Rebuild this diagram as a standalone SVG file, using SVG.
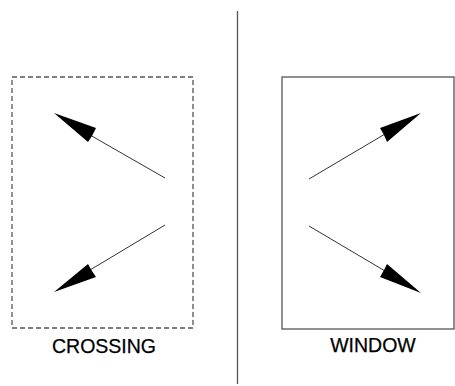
<svg xmlns="http://www.w3.org/2000/svg" width="455" height="386" viewBox="0 0 455 386">
<style>
.frame{fill:none;stroke:#555;stroke-width:1.3}
.dash{stroke-dasharray:5,3}
.shaft{stroke:#333;stroke-width:1}
.head{fill:#000}
.lbl{font-family:"Liberation Sans",Arial,sans-serif;font-size:19.5px;fill:#000;text-anchor:middle;stroke:#000;stroke-width:0.25}
</style>
<rect width="455" height="386" fill="#fff"/>
<line x1="237.5" y1="11" x2="237.5" y2="384" stroke="#555" stroke-width="1.3"/>
<g id="crossing">
<rect class="frame dash" x="12" y="77" width="181" height="251"/>
<text class="lbl" x="104" y="353">CROSSING</text>
</g>
<g id="window">
<rect class="frame" x="282" y="77" width="172" height="252"/>
<text class="lbl" x="373" y="352">WINDOW</text>
</g>
<g id="connectors">
<line class="shaft" x1="165" y1="178" x2="90" y2="135"/>
<polygon class="head" points="54,113 96,128 92,136 88,142"/>
<line class="shaft" x1="165" y1="225" x2="90" y2="270"/>
<polygon class="head" points="54,292 88,264 92,271 96,277"/>
<line class="shaft" x1="309" y1="179" x2="385" y2="134"/>
<polygon class="head" points="421,113 380,128 384,135 387,142"/>
<line class="shaft" x1="309" y1="226" x2="385" y2="271"/>
<polygon class="head" points="421,293 387,264 384,270 380,277"/>
</g>
</svg>
